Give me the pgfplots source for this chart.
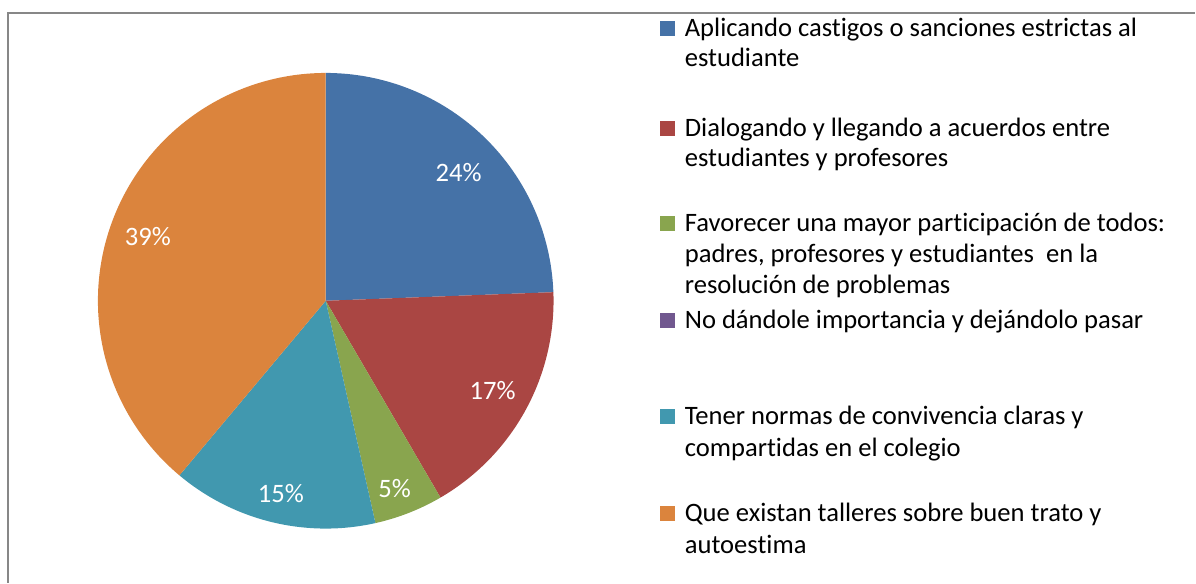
\documentclass[border=0pt]{standalone}
\usepackage{fontspec}
\setmainfont{Carlito}[Ligatures=NoCommon]
\usepackage{pgfplots}
\pgfplotsset{compat=1.18}
\definecolor{cA}{HTML}{4572A7}
\definecolor{cB}{HTML}{AA4643}
\definecolor{cC}{HTML}{89A54E}
\definecolor{cD}{HTML}{71588F}
\definecolor{cE}{HTML}{4198AF}
\definecolor{cF}{HTML}{DB843D}
\definecolor{frame}{HTML}{878787}

% shares in percent, clockwise from 12 o'clock
\def\sA{24.4}\def\sB{17.2}\def\sC{4.9}\def\sD{0}\def\sE{14.6}\def\sF{38.9}
\def\cx{326}\def\cy{282}\def\rr{228}
\pgfmathsetmacro\aA{90}
\pgfmathsetmacro\aB{\aA-3.6*\sA}
\pgfmathsetmacro\aC{\aB-3.6*\sB}
\pgfmathsetmacro\aD{\aC-3.6*\sC}
\pgfmathsetmacro\aE{\aD-3.6*\sD}
\pgfmathsetmacro\aF{\aE-3.6*\sE}
\pgfmathsetmacro\aG{\aF-3.6*\sF}

\begin{document}
\fontsize{13.3}{15}\selectfont
\begin{tikzpicture}
\begin{axis}[scale only axis, width=598pt, height=291.5pt,
  xmin=0, xmax=1196, ymin=0, ymax=583, hide axis, clip=false]
\addplot[fill=cA, draw=none, domain=\aB:\aA, samples=80] ({\cx+\rr*cos(x)},{\cy+\rr*sin(x)}) -- (axis cs:\cx,\cy) -- cycle;
\addplot[fill=cB, draw=none, domain=\aC:\aB, samples=60] ({\cx+\rr*cos(x)},{\cy+\rr*sin(x)}) -- (axis cs:\cx,\cy) -- cycle;
\addplot[fill=cC, draw=none, domain=\aD:\aC, samples=20] ({\cx+\rr*cos(x)},{\cy+\rr*sin(x)}) -- (axis cs:\cx,\cy) -- cycle;
\addplot[fill=cE, draw=none, domain=\aF:\aE, samples=50] ({\cx+\rr*cos(x)},{\cy+\rr*sin(x)}) -- (axis cs:\cx,\cy) -- cycle;
\addplot[fill=cF, draw=none, domain=\aG:\aF, samples=120] ({\cx+\rr*cos(x)},{\cy+\rr*sin(x)}) -- (axis cs:\cx,\cy) -- cycle;

\node[white] at (axis cs:459,410) {24\%};
\node[white] at (axis cs:493,192) {17\%};
\node[white] at (axis cs:395,94) {5\%};
\node[white] at (axis cs:281,89) {15\%};
\node[white] at (axis cs:148,346) {39\%};

\draw[frame, line width=1pt] (axis cs:8,0) -- (axis cs:8,570) -- (axis cs:1196,570);

% legend
\tikzset{lg/.style={anchor=base west, inner sep=0pt}}
\fill[cA] (axis cs:661,562) rectangle (axis cs:676,547);
\node[lg] at (axis cs:685,546) {Aplicando castigos o sanciones estrictas al};
\node[lg] at (axis cs:685,516) {estudiante};
\fill[cB] (axis cs:661,462) rectangle (axis cs:676,447);
\node[lg] at (axis cs:685,446) {Dialogando y llegando a acuerdos entre};
\node[lg] at (axis cs:685,416) {estudiantes y profesores};
\fill[cC] (axis cs:661,367) rectangle (axis cs:676,352);
\node[lg] at (axis cs:685,351) {Favorecer una mayor participación de todos:};
\node[lg] at (axis cs:685,320) {padres, profesores y estudiantes\ \ en la};
\node[lg] at (axis cs:685,289) {resolución de problemas};
\fill[cD] (axis cs:661,270) rectangle (axis cs:676,255);
\node[lg] at (axis cs:685,254) {No dándole importancia y dejándolo pasar};
\fill[cE] (axis cs:661,174) rectangle (axis cs:676,159);
\node[lg] at (axis cs:685,158) {Tener normas de convivencia claras y};
\node[lg] at (axis cs:685,126) {compartidas en el colegio};
\fill[cF] (axis cs:661,77) rectangle (axis cs:676,62);
\node[lg] at (axis cs:685,61) {Que existan talleres sobre buen trato y};
\node[lg] at (axis cs:685,29) {autoestima};
\path (axis cs:0,0) rectangle (axis cs:1196,583);
\end{axis}
\end{tikzpicture}
\end{document}
